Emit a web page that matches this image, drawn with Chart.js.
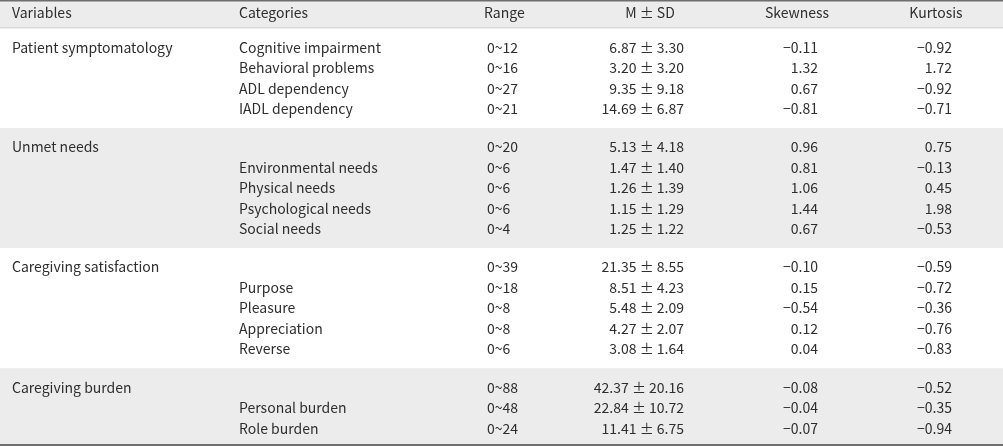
<!DOCTYPE html>
<html>
<head>
<meta charset="utf-8">
<script src="https://cdn.jsdelivr.net/npm/chart.js@4.4.1/dist/chart.umd.min.js"></script>
<style>
  html, body { margin: 0; padding: 0; background: #fff; }
  #wrap { width: 1003px; height: 446px; position: relative; }
</style>
</head>
<body>
<div id="wrap"><canvas id="tabela"></canvas></div>
<script>
// Cabeçalho e dados da tabela
const headers = ["Variables", "Categories", "Range", "M ± SD", "Skewness", "Kurtosis"];

const groupNames = ["Patient symptomatology", "Unmet needs", "Caregiving satisfaction", "Caregiving burden"];
const groupSizes = [4, 5, 5, 3];

const categories = [
  "Cognitive impairment", "Behavioral problems", "ADL dependency", "IADL dependency",
  "", "Environmental needs", "Physical needs", "Psychological needs", "Social needs",
  "", "Purpose", "Pleasure", "Appreciation", "Reverse",
  "", "Personal burden", "Role burden",
];
const rangeMax = [12, 16, 27, 21, 20, 6, 6, 6, 4, 39, 18, 8, 8, 6, 88, 48, 24];
const means = [6.87, 3.2, 9.35, 14.69, 5.13, 1.47, 1.26, 1.15, 1.25, 21.35, 8.51, 5.48, 4.27, 3.08, 42.37, 22.84, 11.41];
const sds = [3.3, 3.2, 9.18, 6.87, 4.18, 1.4, 1.39, 1.29, 1.22, 8.55, 4.23, 2.09, 2.07, 1.64, 20.16, 10.72, 6.75];
const skewness = [-0.11, 1.32, 0.67, -0.81, 0.96, 0.81, 1.06, 1.44, 0.67, -0.1, 0.15, -0.54, 0.12, 0.04, -0.08, -0.04, -0.07];
const kurtosis = [-0.92, 1.72, -0.92, -0.71, 0.75, -0.13, 0.45, 1.98, -0.53, -0.59, -0.72, -0.36, -0.76, -0.83, -0.52, -0.35, -0.94];

// Layout (unidades da escala y = altura de uma linha)
const HEADER_H = 1.38;
const PAD = 0.43;
const colX = { variables: 12, categories: 239, range: 487, mean: 684, skew: 818, kurt: 952 };
const headX = [12, 239, 484, 650, 797, 936];
const headAlign = ["left", "left", "left", "center", "center", "center"];
const FONT = '14px "Noto Sans CJK KR", "Noto Sans", sans-serif';
const TEXT = "#2e2e2e";
const BAND = "#ececec";

function fmt(v) {
  return (v < 0 ? "\u2212" : "") + Math.abs(v).toFixed(2);
}

// posição (em unidades) de cada grupo e linha
const groupBounds = [];
const rowY = [];
let cursor = HEADER_H;
groupSizes.forEach((n) => {
  const top = cursor;
  for (let i = 0; i < n; i++) rowY.push(top + PAD + i + 0.5);
  cursor = top + PAD * 2 + n;
  groupBounds.push([top, cursor]);
});

const tablePlugin = {
  id: "tabela",
  beforeDatasetsDraw(chart) {
    const { ctx, scales } = chart;
    const x = scales.x, y = scales.y;
    const left = x.getPixelForValue(0), right = x.getPixelForValue(1003);

    ctx.save();
    // faixas cinzas
    ctx.fillStyle = BAND;
    const bands = [[0, HEADER_H], groupBounds[1], groupBounds[3]];
    bands.forEach(([a, b]) => {
      const ya = y.getPixelForValue(a), yb = y.getPixelForValue(b);
      ctx.fillRect(left, ya, right - left, yb - ya);
    });

    // linhas horizontais
    ctx.fillStyle = "#d2d2d2";
    ctx.fillRect(left, y.getPixelForValue(HEADER_H) - 1, right - left, 1);
    ctx.fillStyle = "#6e6e6e";
    ctx.fillRect(left, y.getPixelForValue(0), right - left, 1.5);
    const yEnd = y.getPixelForValue(groupBounds[groupBounds.length - 1][1]);
    ctx.fillRect(left, Math.min(yEnd, chart.height) - 2, right - left, 2);

    // textos
    ctx.font = FONT;
    ctx.fillStyle = TEXT;
    ctx.textBaseline = "middle";
    const yh = y.getPixelForValue(HEADER_H / 2 - 0.05);
    headers.forEach((h, i) => {
      ctx.textAlign = headAlign[i];
      ctx.fillText(h, x.getPixelForValue(headX[i]), yh);
    });

    let r = 0;
    groupSizes.forEach((n, g) => {
      ctx.textAlign = "left";
      ctx.fillText(groupNames[g], x.getPixelForValue(colX.variables), y.getPixelForValue(rowY[r]));
      for (let i = 0; i < n; i++, r++) {
        const py = y.getPixelForValue(rowY[r]);
        ctx.textAlign = "left";
        ctx.fillText(categories[r], x.getPixelForValue(colX.categories), py);
        ctx.fillText("0~" + rangeMax[r], x.getPixelForValue(colX.range), py);
        ctx.textAlign = "right";
        ctx.fillText(means[r].toFixed(2) + " ± " + sds[r].toFixed(2), x.getPixelForValue(colX.mean), py);
        ctx.fillText(fmt(skewness[r]), x.getPixelForValue(colX.skew), py);
        ctx.fillText(fmt(kurtosis[r]), x.getPixelForValue(colX.kurt), py);
      }
    });
    ctx.restore();
  },
};

new Chart(document.getElementById("tabela").getContext("2d"), {
  type: "scatter",
  data: {
    datasets: [
      {
        data: rowY.map((v) => ({ x: colX.range, y: v })),
        pointRadius: 0,
      },
    ],
  },
  options: {
    responsive: true,
    maintainAspectRatio: false,
    animation: false,
    layout: { padding: 0 },
    plugins: { legend: { display: false }, tooltip: { enabled: false } },
    scales: {
      x: { type: "linear", min: 0, max: 1003, display: false },
      y: { type: "linear", min: 0, max: 446 / 20.5, reverse: true, display: false },
    },
  },
  plugins: [tablePlugin],
});
</script>
</body>
</html>
